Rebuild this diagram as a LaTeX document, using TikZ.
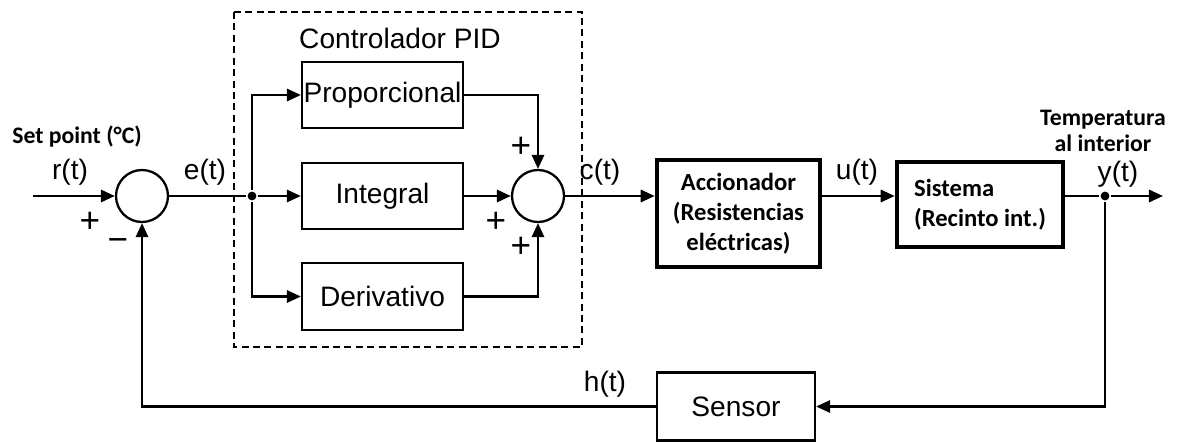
\documentclass[tikz,border=0pt]{standalone}
\usepackage{fontspec}
\setmainfont{Liberation Sans}
\newfontfamily\calib{Carlito}
\usetikzlibrary{arrows.meta,calc}

\tikzset{
  arr/.style={-{Triangle[length=8pt,width=7pt]}},
  blk/.style={draw, line width=1.3pt, font=\fontsize{16}{19}\selectfont, inner sep=0pt},
  bblk/.style={draw, line width=2.6pt, font=\calib\bfseries\fontsize{14}{17}\selectfont, inner sep=0pt},
  sumc/.style={draw, circle, line width=1.3pt, minimum size=1.04cm, inner sep=0pt},
  jdot/.style={fill, circle, minimum size=5pt, inner sep=0pt},
  lbl/.style={font=\fontsize{16}{19}\selectfont, inner sep=0pt},
  sgn/.style={font=\fontsize{20}{22}\selectfont, inner sep=0pt},
  blbl/.style={font=\calib\bfseries\fontsize{13.5}{14.5}\selectfont, inner sep=0pt}
}

\begin{document}
\begin{tikzpicture}[x=0.02cm, y=-0.02cm, line width=1.3pt]
    \useasboundingbox (0,0) rectangle (1194,442);
    % PID frame
    \draw[line width=0.9pt, dash pattern=on 4pt off 2.5pt] (234,12) rectangle (582,347);
    \node[lbl] (pidtitle) at (400,38) {Controlador PID};

    % blocks
    \node[sumc] (sum1) at (142,196) {};
    \node[jdot] (bdot) at (252,196) {};
    \node[blk, minimum width=3.22cm, minimum height=1.32cm] (prop) at (382.5,95) {Proporcional};
    \node[blk, minimum width=3.22cm, minimum height=1.32cm] (integ) at (382.5,196) {Integral};
    \node[blk, minimum width=3.22cm, minimum height=1.34cm] (deriv) at (382.5,296.5) {Derivativo};
    \node[sumc] (sum2) at (538,196) {};
    \node[bblk, minimum width=3.26cm, minimum height=2.14cm, align=center] (acc) at (738.5,213.5)
        {Accionador\\(Resistencias\\eléctricas)};
    \node[bblk, minimum width=3.32cm, minimum height=1.70cm, align=left] (sys) at (980,204.5)
        {Sistema\\(Recinto int.)};
    \node[jdot] (ydot) at (1105,196) {};
    \node[blk, minimum width=3.16cm, minimum height=1.36cm] (sensor) at (736,406.5) {Sensor};
    \coordinate (rin) at (33,196);
    \coordinate (yout) at (1163,196);

    % connectors
    \draw[arr] (rin) -- (sum1.west);
    \draw (sum1.east) -- (bdot);
    \draw[arr] (bdot) |- (prop.west);
    \draw[arr] (bdot) -- (integ.west);
    \draw[arr] (bdot) |- (deriv.west);
    \draw[arr] (prop.east) -| (sum2.north);
    \draw[arr] (integ.east) -- (sum2.west);
    \draw[arr] (deriv.east) -| (sum2.south);
    \draw[arr] (sum2.east) -- (sum2.east -| acc.west);
    \draw[arr] (sum2 -| acc.east) -- (sum2 -| sys.west);
    \draw (sum2 -| sys.east) -- (ydot);
    \draw[arr] (ydot) -- (yout);
    \draw[arr] (ydot) |- (sensor.east);
    \draw[arr] (sensor.west) -| (sum1.south);

    % labels
    \node[blbl] (setp) at (77,137) {Set point (°C)};
    \node[lbl] (rt) at (70,172) {r(t)};
    \node[lbl] (et) at (205,172) {e(t)};
    \node[lbl] (ct) at (600,172) {c(t)};
    \node[lbl] (ut) at (857,172) {u(t)};
    \node[lbl] (yt) at (1118,174) {y(t)};
    \node[lbl] (ht) at (605,384) {h(t)};
    \node[blbl, align=center] (temp) at (1103,131) {Temperatura\\al interior};
    \node[sgn] (p1) at (90,222) {+};
    \node[sgn] (m1) at (118,245) {−};
    \node[sgn] (p2) at (521,147) {+};
    \node[sgn] (p3) at (496,222) {+};
    \node[sgn] (p4) at (521,247) {+};
\end{tikzpicture}
\end{document}
